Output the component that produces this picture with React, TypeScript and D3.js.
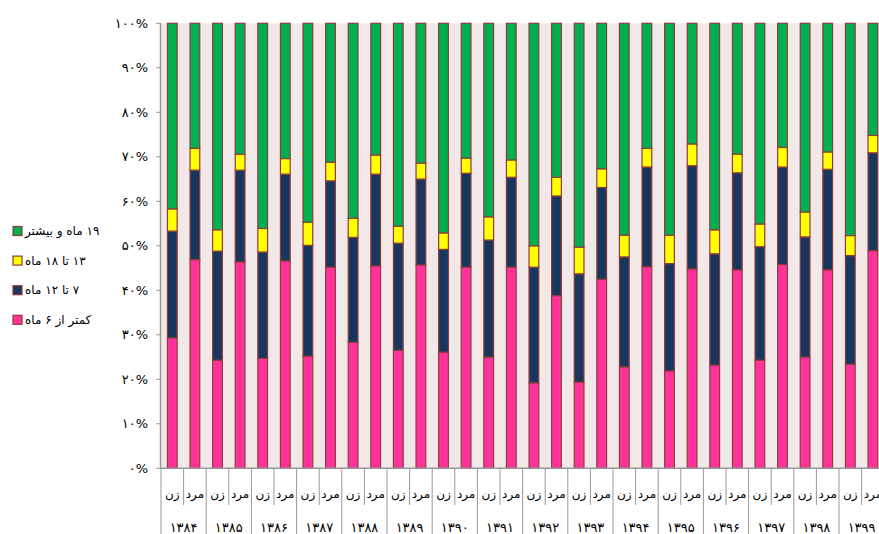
import React from "react";
import * as d3 from "d3";

// years (Persian calendar) and the two bars per year
const years = ["۱۳۸۴", "۱۳۸۵", "۱۳۸۶", "۱۳۸۷", "۱۳۸۸", "۱۳۸۹", "۱۳۹۰", "۱۳۹۱", "۱۳۹۲", "۱۳۹۳", "۱۳۹۴", "۱۳۹۵", "۱۳۹۶", "۱۳۹۷", "۱۳۹۸", "۱۳۹۹"];
const genders = ["زن", "مرد"];

// shares (%) per bar, in order: year1-زن, year1-مرد, year2-زن, ...
const lessThan6 = [29.3, 46.9, 24.3, 46.4, 24.7, 46.6, 25.2, 45.2, 28.3, 45.5, 26.5, 45.7, 26.1, 45.2, 25.0, 45.2, 19.2, 38.8, 19.4, 42.5, 22.8, 45.3, 21.9, 44.8, 23.2, 44.6, 24.3, 45.8, 25.0, 44.6, 23.4, 48.9];
const from7to12 = [24.0, 20.1, 24.5, 20.6, 23.9, 19.5, 24.9, 19.4, 23.6, 20.6, 24.1, 19.3, 23.1, 21.1, 26.3, 20.2, 26.0, 22.4, 24.3, 20.6, 24.7, 22.4, 24.1, 23.2, 25.0, 21.8, 25.5, 21.9, 27.0, 22.6, 24.4, 22.0];
const from13to18 = [5.0, 4.9, 4.8, 3.6, 5.3, 3.5, 5.2, 4.2, 4.3, 4.3, 3.8, 3.6, 3.7, 3.4, 5.2, 3.9, 4.8, 4.2, 6.0, 4.2, 4.9, 4.2, 6.4, 4.9, 5.4, 4.2, 5.1, 4.4, 5.6, 3.9, 4.5, 3.9];
const over19 = [41.7, 28.1, 46.4, 29.4, 46.1, 30.4, 44.7, 31.2, 43.8, 29.6, 45.6, 31.4, 47.1, 30.3, 43.5, 30.7, 50.0, 34.6, 50.3, 32.7, 47.6, 28.1, 47.6, 27.1, 46.4, 29.4, 45.1, 27.9, 42.4, 28.9, 47.7, 25.2];

const seriesKeys = ["lt6", "m7", "m13", "m19"];
const seriesNames = ["کمتر از ۶ ماه", "۷ تا ۱۲ ماه", "۱۳ تا ۱۸ ماه", "۱۹ ماه و بیشتر"];
const seriesColors = ["#FF3399", "#17375E", "#FFFF00", "#00B050"];

const yTicks = [0, 10, 20, 30, 40, 50, 60, 70, 80, 90, 100];
const yTickLabels = ["۰%", "۱۰%", "۲۰%", "۳۰%", "۴۰%", "۵۰%", "۶۰%", "۷۰%", "۸۰%", "۹۰%", "۱۰۰%"];

const W = 879;
const H = 534;
const left = 161;
const step = 22.6;
const top = 23.3;
const bottom = 468.3;
const arabicFont = "'DejaVu Sans', sans-serif";

export default function App() {
  const rows = years.flatMap((yr, i) =>
    genders.map((g, j) => {
      const k = i * 2 + j;
      return {
        key: `${yr}-${g}`,
        year: yr,
        gender: g,
        lt6: lessThan6[k],
        m7: from7to12[k],
        m13: from13to18[k],
        m19: over19[k],
      };
    })
  );

  const x = d3
    .scaleBand()
    .domain(rows.map((d) => d.key))
    .range([left, left + step * rows.length])
    .paddingInner(0.57)
    .paddingOuter(0.285);

  const y = d3.scaleLinear().domain([0, 100]).range([bottom, top]);

  const stacked = d3.stack().keys(seriesKeys)(rows as any);

  const legendOrder = [3, 2, 1, 0];

  return (
    <svg
      width={W}
      height={H}
      style={{ position: "fixed", left: 0, top: 0, background: "#fff" }}
    >
      {/* plot background */}
      <rect x={left} y={top} width={W - left} height={bottom - top} fill="#F3E8E8" />

      {/* bars */}
      {stacked.map((layer, si) => (
        <g key={layer.key} fill={seriesColors[si]} stroke="#8E3B3B" strokeWidth={1.2}>
          {layer.map((seg, bi) => (
            <rect
              key={bi}
              x={x(rows[bi].key)}
              y={y(seg[1])}
              width={x.bandwidth()}
              height={y(seg[0]) - y(seg[1])}
            />
          ))}
        </g>
      ))}

      {/* y axis */}
      <line x1={left - 0.5} x2={left - 0.5} y1={top} y2={bottom} stroke="#999" strokeWidth={1.5} />
      {yTicks.map((t, i) => (
        <g key={t}>
          <line x1={left - 5} x2={left - 0.5} y1={y(t)} y2={y(t)} stroke="#999" strokeWidth={1} />
          <text
            x={148}
            y={y(t)}
            dy="0.35em"
            textAnchor="end"
            fontFamily={arabicFont}
            fontSize={13}
            fill="#000"
          >
            {yTickLabels[i]}
          </text>
        </g>
      ))}

      {/* x axis */}
      <line x1={left - 1} x2={W} y1={bottom} y2={bottom} stroke="#999" strokeWidth={1.5} />
      {rows.map((d, k) => {
        const x0 = left + step * k;
        const isYearStart = k % 2 === 0;
        return (
          <g key={d.key}>
            <line
              x1={x0}
              x2={x0}
              y1={bottom}
              y2={isYearStart ? H : 505}
              stroke="#999"
              strokeWidth={1}
            />
            <text
              x={x(d.key)! + x.bandwidth() / 2}
              y={494}
              dy="0.35em"
              textAnchor="middle"
              fontFamily={arabicFont}
              fontSize={12}
              fill="#000"
            >
              {d.gender}
            </text>
          </g>
        );
      })}
      {years.map((yr, i) => (
        <text
          key={yr}
          x={left + step * 2 * i + step}
          y={527}
          dy="0.35em"
          textAnchor="middle"
          fontFamily={arabicFont}
          fontSize={13}
          fill="#000"
        >
          {yr}
        </text>
      ))}

      {/* legend */}
      {legendOrder.map((si, li) => {
        const cy = 231 + li * 29.6;
        return (
          <g key={si}>
            <rect
              x={13}
              y={cy - 4.5}
              width={9}
              height={9}
              fill={seriesColors[si]}
              stroke="#8E3B3B"
              strokeWidth={1.2}
            />
            <text
              x={25}
              y={cy}
              dy="0.35em"
              direction="rtl"
              textAnchor="end"
              fontFamily={arabicFont}
              fontSize={12}
              fill="#000"
            >
              {seriesNames[si]}
            </text>
          </g>
        );
      })}
    </svg>
  );
}
